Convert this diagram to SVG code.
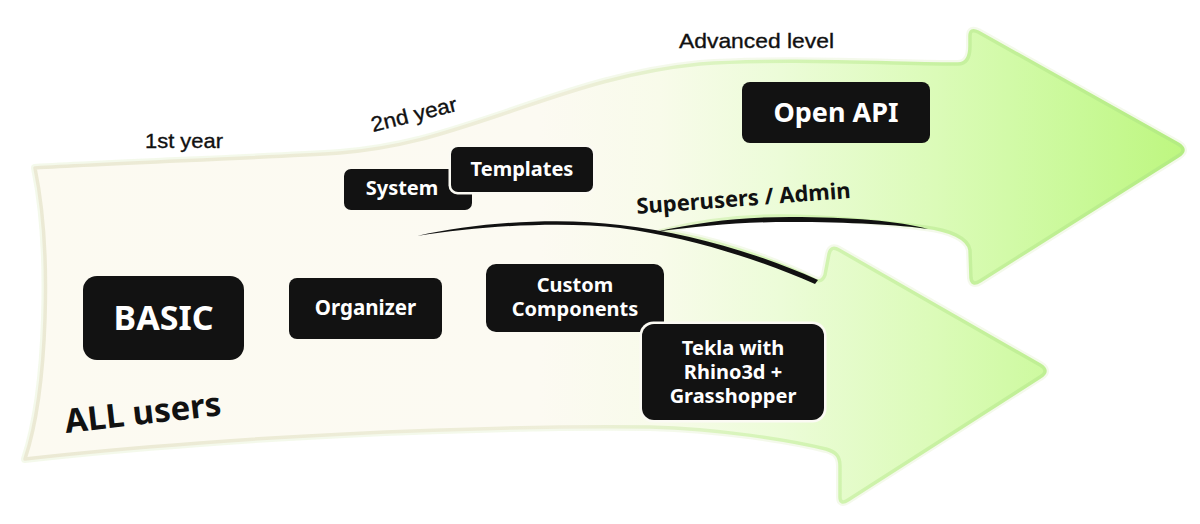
<svg xmlns="http://www.w3.org/2000/svg" width="1200" height="524" viewBox="0 0 1200 524">
  <defs>
    <linearGradient id="fillGrad" gradientUnits="userSpaceOnUse" x1="0" y1="0" x2="1200" y2="0">
      <stop offset="0" stop-color="#fcfaf1"/>
      <stop offset="0.45" stop-color="#fcfaf2"/>
      <stop offset="0.55" stop-color="#f8fbea"/>
      <stop offset="0.65" stop-color="#ecfcd8"/>
      <stop offset="0.78" stop-color="#dbfbb8"/>
      <stop offset="0.9" stop-color="#c9f998"/>
      <stop offset="1" stop-color="#bcf67c"/>
    </linearGradient>
    <linearGradient id="edgeGrad" gradientUnits="userSpaceOnUse" x1="0" y1="0" x2="1200" y2="0">
      <stop offset="0" stop-color="#ebe9d4"/>
      <stop offset="0.48" stop-color="#eeeed9"/>
      <stop offset="0.62" stop-color="#d8f5bb"/>
      <stop offset="1" stop-color="#b2ec7f"/>
    </linearGradient>
    <style>
      .box { fill: #121212; }
      .halo { fill: #fbfaf3; }
      .lbl { font-family: "Noto Sans", "Open Sans", sans-serif; font-weight: 700; fill: #ffffff; text-anchor: middle; }
      .cap { font-family: "Liberation Sans", Arial, sans-serif; fill: #111111; stroke: #111111; stroke-width: 0.35; }
      .bold { font-family: "Noto Sans", "Open Sans", sans-serif; font-weight: 700; fill: #111111; }
    </style>
  </defs>

  <g id="arrows">
    <path id="arrow-body" d="M 35,168 C 120,163 260,158 340,153 C 400,148 440,135 500,115 C 560,95 620,72 700,64 C 780,58 900,64 958,64 C 967,64 970,56 970,46 L 970,36 Q 970,28 978,32 L 1178,144 Q 1188,150 1178,156 L 980,281 Q 972,286 971,278 L 970,250 C 968,238 950,230 925,227 C 880,221 820,216 780,216 C 730,216 690,223 660,231 C 710,238 770,258 815,280 Q 822,283 825,275 L 829,254 Q 831,245 839,250 L 1040,365 Q 1050,371 1040,377 L 848,500 Q 840,505 840,497 L 840,466 C 840,456 836,452 826,449 C 790,440 720,429 650,427 C 500,425 300,435 200,443 C 120,449 60,455 25,459 C 48,390 52,250 35,168 Z" fill="none" stroke="#f1f8e6" stroke-width="8" stroke-linejoin="round" opacity="0.8"/>
    <path d="M 35,168 C 120,163 260,158 340,153 C 400,148 440,135 500,115 C 560,95 620,72 700,64 C 780,58 900,64 958,64 C 967,64 970,56 970,46 L 970,36 Q 970,28 978,32 L 1178,144 Q 1188,150 1178,156 L 980,281 Q 972,286 971,278 L 970,250 C 968,238 950,230 925,227 C 880,221 820,216 780,216 C 730,216 690,223 660,231 C 710,238 770,258 815,280 Q 822,283 825,275 L 829,254 Q 831,245 839,250 L 1040,365 Q 1050,371 1040,377 L 848,500 Q 840,505 840,497 L 840,466 C 840,456 836,452 826,449 C 790,440 720,429 650,427 C 500,425 300,435 200,443 C 120,449 60,455 25,459 C 48,390 52,250 35,168 Z" fill="url(#fillGrad)" stroke="url(#edgeGrad)" stroke-width="3.5" stroke-linejoin="round"/>
  </g>

  <g id="connectors">
    <path d="M 417,236 C 480,222 560,217 620,225 C 690,233 760,254 818,280 L 815,284 C 758,259 688,237 620,228 C 560,221 480,226 417,236 Z" fill="#111111"/>
    <path d="M 655,232 C 700,222 740,217 790,217 C 850,217 900,221 928,229 C 900,225 850,222 790,222 C 740,222 700,226 655,232 Z" fill="#111111"/>
  </g>

  <g id="captions">
    <text class="cap" x="145" y="148" font-size="21" textLength="78" lengthAdjust="spacingAndGlyphs">1st year</text>
    <text class="cap" x="0" y="0" font-size="21" textLength="88" lengthAdjust="spacingAndGlyphs" transform="translate(373,132) rotate(-14)">2nd year</text>
    <text class="cap" x="679" y="48" font-size="21" textLength="155" lengthAdjust="spacingAndGlyphs">Advanced level</text>
    <text class="bold" x="0" y="0" font-size="22" transform="translate(637,214) rotate(-4.3)">Superusers / Admin</text>
    <text class="bold" x="0" y="0" font-size="33" transform="translate(66,433) rotate(-6.5)">ALL users</text>
  </g>

  <g id="node-basic">
    <rect class="box" x="83" y="276" width="161" height="84" rx="14"/>
    <text class="lbl" x="163.5" y="330" font-size="34">BASIC</text>
  </g>
  <g id="node-organizer">
    <rect class="box" x="289" y="278" width="153" height="61" rx="8"/>
    <text class="lbl" x="365.5" y="315" font-size="20.5">Organizer</text>
  </g>
  <g id="node-system">
    <rect class="box" x="344" y="169" width="128" height="41" rx="7"/>
    <text class="lbl" x="402" y="195" font-size="20">System</text>
  </g>
  <g id="node-templates">
    <rect class="halo" x="448.5" y="144.5" width="147" height="50" rx="9"/>
    <rect class="box" x="451" y="147" width="142" height="45" rx="7"/>
    <text class="lbl" x="522" y="176" font-size="20">Templates</text>
  </g>
  <g id="node-custom">
    <rect class="box" x="486" y="264" width="178" height="68" rx="10"/>
    <text class="lbl" x="575" y="292" font-size="20">Custom</text>
    <text class="lbl" x="575" y="316" font-size="20">Components</text>
  </g>
  <g id="node-tekla">
    <rect class="halo" x="639.5" y="321.5" width="187" height="101" rx="14"/>
    <rect class="box" x="642" y="324" width="182" height="96" rx="12"/>
    <text class="lbl" x="733" y="355" font-size="20">Tekla with</text>
    <text class="lbl" x="733" y="379" font-size="20">Rhino3d +</text>
    <text class="lbl" x="733" y="403" font-size="20">Grasshopper</text>
  </g>
  <g id="node-openapi">
    <rect class="box" x="742" y="82" width="188" height="61" rx="8"/>
    <text class="lbl" x="836" y="122" font-size="27">Open API</text>
  </g>
</svg>
